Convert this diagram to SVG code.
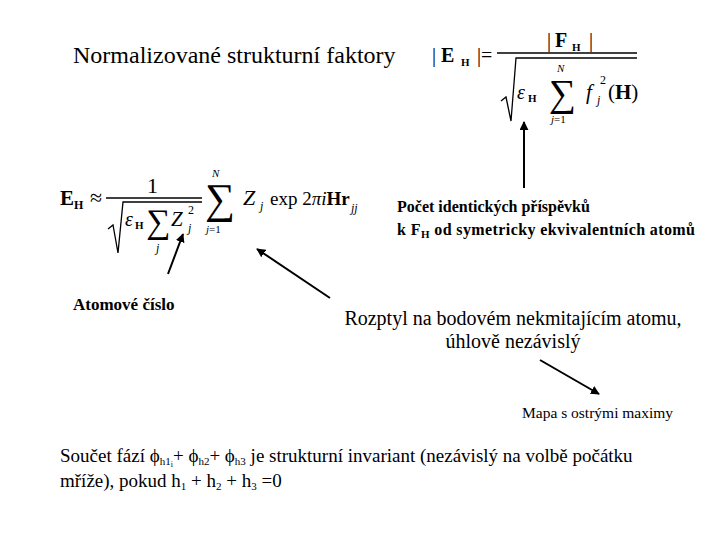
<svg xmlns="http://www.w3.org/2000/svg" width="720" height="540" viewBox="0 0 720 540">
<defs>
<marker id="ah" viewBox="0 0 10 10" refX="9" refY="5" markerWidth="4.5" markerHeight="4.5" orient="auto" markerUnits="strokeWidth">
<path d="M0,0 L10,5 L0,10 z" fill="#000"/>
</marker>
</defs>
<rect width="720" height="540" fill="#fff"/>

<g id="title"><text font-family="'Liberation Serif', serif" x="73" y="63" font-size="24">Normalizované strukturní faktory</text></g>

<g id="formula1">
<text font-family="'Liberation Serif', serif" x="432" y="62" font-size="20">|</text>
<text font-family="'Liberation Serif', serif" x="441" y="62" font-size="20" font-weight="bold">E</text>
<text font-family="'Liberation Serif', serif" x="461" y="66" font-size="11" font-weight="bold">H</text>
<text font-family="'Liberation Serif', serif" x="477" y="62" font-size="20">|=</text>
<text font-family="'Liberation Serif', serif" x="547" y="47" font-size="20">|</text>
<text font-family="'Liberation Serif', serif" x="555" y="47" font-size="20" font-weight="bold">F</text>
<text font-family="'Liberation Serif', serif" x="572" y="51" font-size="11" font-weight="bold">H</text>
<text font-family="'Liberation Serif', serif" x="589" y="47" font-size="20">|</text>
<line stroke="#000" stroke-width="1.3" x1="497" y1="53" x2="637" y2="53"/>
<polyline stroke="#000" stroke-width="1.3" fill="none" points="501,101 506,97 511,121 516,58 637,58"/>
<text font-family="'Liberation Serif', serif" x="517" y="99" font-size="20" font-style="italic">ε</text>
<text font-family="'Liberation Serif', serif" x="528" y="102" font-size="11" font-weight="bold">H</text>
<text font-family="'Liberation Serif', serif" x="549" y="106" font-size="38">∑</text>
<text font-family="'Liberation Serif', serif" x="557" y="72" font-size="11" font-style="italic">N</text>
<text font-family="'Liberation Serif', serif" x="551" y="123" font-size="11"><tspan font-style="italic">j</tspan>=1</text>
<text font-family="'Liberation Serif', serif" x="586" y="99" font-size="21" font-style="italic">f</text>
<text font-family="'Liberation Serif', serif" x="597" y="104" font-size="12" font-style="italic">j</text>
<text font-family="'Liberation Serif', serif" x="600" y="84" font-size="12">2</text>
<text font-family="'Liberation Serif', serif" x="608" y="99" font-size="21">(<tspan font-weight="bold">H</tspan>)</text>
</g>

<g id="formula2">
<text font-family="'Liberation Serif', serif" x="60" y="205" font-size="21" font-weight="bold">E</text>
<text font-family="'Liberation Serif', serif" x="74" y="209" font-size="12" font-weight="bold">H</text>
<text font-family="'Liberation Serif', serif" x="90" y="205" font-size="22">≈</text>
<text font-family="'Liberation Serif', serif" x="147" y="193" font-size="22">1</text>
<line stroke="#000" stroke-width="1.3" x1="106" y1="198" x2="202" y2="198"/>
<polyline stroke="#000" stroke-width="1.3" fill="none" points="108,229 113,225 118,253 123,202 202,202"/>
<text font-family="'Liberation Serif', serif" x="125" y="226" font-size="20" font-style="italic">ε</text>
<text font-family="'Liberation Serif', serif" x="135" y="229" font-size="11" font-weight="bold">H</text>
<text font-family="'Liberation Serif', serif" x="146" y="233" font-size="34">∑</text>
<text font-family="'Liberation Serif', serif" x="156" y="252" font-size="12" font-style="italic">j</text>
<text font-family="'Liberation Serif', serif" x="171" y="226" font-size="21" font-style="italic">Z</text>
<text font-family="'Liberation Serif', serif" x="188" y="214" font-size="12">2</text>
<text font-family="'Liberation Serif', serif" x="188" y="232" font-size="12" font-style="italic">j</text>
<text font-family="'Liberation Serif', serif" x="205" y="213" font-size="42">∑</text>
<text font-family="'Liberation Serif', serif" x="212" y="177" font-size="11" font-style="italic">N</text>
<text font-family="'Liberation Serif', serif" x="206" y="233" font-size="11"><tspan font-style="italic">j</tspan>=1</text>
<text font-family="'Liberation Serif', serif" x="243" y="205" font-size="22" font-style="italic">Z</text>
<text font-family="'Liberation Serif', serif" x="260" y="210" font-size="12" font-style="italic">j</text>
<text font-family="'Liberation Serif', serif" x="270" y="205" font-size="19">exp 2<tspan font-style="italic">πi</tspan><tspan font-weight="bold">Hr</tspan></text>
<text font-family="'Liberation Serif', serif" x="351" y="212" font-size="12" font-style="italic">jj</text>
</g>

<g id="label-pocet">
<text font-family="'Liberation Serif', serif" x="397" y="212" font-size="16" font-weight="bold">Počet identických příspěvků</text>
<text font-family="'Liberation Serif', serif" x="397" y="235" font-size="16" font-weight="bold" textLength="298" lengthAdjust="spacing">k F<tspan font-size="11" dy="3">H</tspan><tspan dy="-3"> od symetricky ekvivalentních atomů</tspan></text>
</g>

<g id="label-atomove"><text font-family="'Liberation Serif', serif" x="73" y="310" font-size="17" font-weight="bold">Atomové číslo</text></g>

<g id="label-rozptyl">
<text font-family="'Liberation Serif', serif" x="513" y="325" font-size="20" text-anchor="middle">Rozptyl na bodovém nekmitajícím atomu,</text>
<text font-family="'Liberation Serif', serif" x="513" y="348" font-size="20" text-anchor="middle">úhlově nezávislý</text>
</g>

<g id="label-mapa"><text font-family="'Liberation Serif', serif" x="522" y="418" font-size="15.5">Mapa s ostrými maximy</text></g>

<g id="label-soucet">
<text font-family="'Liberation Serif', serif" x="60" y="462" font-size="19">Součet fází ϕ<tspan font-size="11" dy="3">h1</tspan><tspan font-size="8" dy="2">i</tspan><tspan dy="-5">+ ϕ</tspan><tspan font-size="11" dy="3">h2</tspan><tspan dy="-3">+ ϕ</tspan><tspan font-size="11" dy="3">h3</tspan><tspan dy="-3"> je strukturní invariant (nezávislý na volbě počátku</tspan></text>
<text font-family="'Liberation Serif', serif" x="60" y="487" font-size="19">mříže), pokud h<tspan font-size="11" dy="3">1</tspan><tspan dy="-3"> + h</tspan><tspan font-size="11" dy="3">2</tspan><tspan dy="-3"> + h</tspan><tspan font-size="11" dy="3">3</tspan><tspan dy="-3"> =0</tspan></text>
</g>

<g id="connectors" stroke="#000" stroke-width="2" fill="none">
<line marker-end="url(#ah)" x1="524" y1="188" x2="524" y2="122"/>
<line marker-end="url(#ah)" x1="168" y1="274" x2="183" y2="234"/>
<line marker-end="url(#ah)" x1="330" y1="298" x2="257" y2="249"/>
<line marker-end="url(#ah)" x1="540" y1="360" x2="599" y2="394"/>
</g>
</svg>
